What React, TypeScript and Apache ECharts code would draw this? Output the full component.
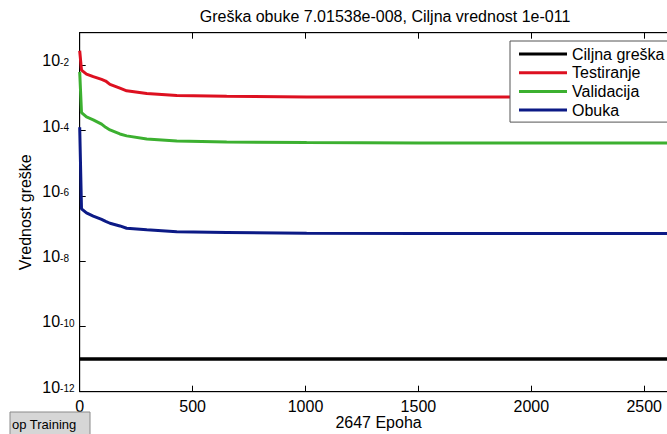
import React, { useEffect, useRef } from "react";
import * as echarts from "echarts";

const titleText = "Greška obuke 7.01538e-008, Ciljna vrednost 1e-011";
const xName = "2647 Epoha";
const yName = "Vrednost greške";
const seriesNames = ["Ciljna greška", "Testiranje", "Validacija", "Obuka"];
const seriesColors = ["#000000", "#dd1020", "#3cb030", "#0c1a86"];

const epochs = [0, 8, 30, 60, 97, 115, 134, 178, 208, 297, 430, 651, 1005, 1500, 2000, 2647];
const target = [1e-11, 1e-11, 1e-11, 1e-11, 1e-11, 1e-11, 1e-11, 1e-11, 1e-11, 1e-11, 1e-11, 1e-11, 1e-11, 1e-11, 1e-11, 1e-11];
const testing = [2.8e-2, 7.1e-3, 5.4e-3, 4.5e-3, 3.7e-3, 3.3e-3, 2.6e-3, 2.0e-3, 1.66e-3, 1.38e-3, 1.2e-3, 1.12e-3, 1.07e-3, 1.07e-3, 1.07e-3, 1.07e-3];
const validation = [6.3e-3, 3.55e-4, 2.63e-4, 2.14e-4, 1.58e-4, 1.26e-4, 1.05e-4, 7.9e-5, 6.9e-5, 5.5e-5, 4.8e-5, 4.5e-5, 4.3e-5, 4.2e-5, 4.2e-5, 4.2e-5];
const training = [1.26e-4, 4.0e-7, 3.0e-7, 2.4e-7, 1.9e-7, 1.66e-7, 1.45e-7, 1.2e-7, 1.02e-7, 9.1e-8, 7.9e-8, 7.6e-8, 7.1e-8, 7.05e-8, 7.03e-8, 7.01538e-8];

const xTicks = [0, 500, 1000, 1500, 2000, 2500];

const FONT = "'Liberation Sans', Arial, sans-serif";

export default function App() {
  const ref = useRef<HTMLDivElement>(null);
  useEffect(() => {
    if (!ref.current) return;
    const chart = echarts.init(ref.current, null, { renderer: "svg" });
    const allSeries = [target, testing, validation, training];
    const option: any = {
      animation: false,
      backgroundColor: "#ffffff",
      textStyle: { fontFamily: FONT },
      title: {
        text: titleText,
        left: 380,
        textAlign: "center",
        top: 3,
        textStyle: { fontFamily: FONT, fontSize: 16, fontWeight: "normal", color: "#000" },
      },
      legend: {
        orient: "vertical",
        left: 510,
        top: 41,
        padding: [5, 10, 4, 9],
        itemGap: 2.7,
        itemWidth: 48,
        itemHeight: 3,
        icon: "rect",
        backgroundColor: "#ffffff",
        borderColor: "#555555",
        borderWidth: 1,
        borderRadius: 0,
        textStyle: { fontFamily: FONT, fontSize: 16, color: "#000" },
        data: seriesNames,
      },
      grid: {
        left: 79.7,
        top: 32.7,
        right: -10.4,
        bottom: 42.3,
        containLabel: false,
        outerBoundsMode: "none",
        show: true,
        borderColor: "#000",
        borderWidth: 1,
        backgroundColor: "#ffffff",
      },
      xAxis: [
        {
          type: "value",
          min: 0,
          max: 2647,
          interval: 500,
          name: xName,
          nameLocation: "middle",
          nameGap: 23,
          nameMoveOverlap: false,
          nameTextStyle: { fontFamily: FONT, fontSize: 16, color: "#000" },
          axisLine: { show: true, lineStyle: { color: "#000", width: 1 } },
          axisTick: { show: true, inside: true, length: 6, lineStyle: { color: "#000" } },
          splitLine: { show: false },
          axisLabel: {
            fontFamily: FONT,
            fontSize: 16,
            color: "#000",
            margin: 7,
            showMaxLabel: false,
            formatter: (v: number) => (xTicks.indexOf(Math.round(v)) >= 0 ? String(Math.round(v)) : ""),
          },
        },
        {
          type: "value",
          position: "top",
          min: 0,
          max: 2647,
          interval: 500,
          axisLine: { show: true, lineStyle: { color: "#000", width: 1 } },
          axisTick: { show: true, inside: true, length: 6, lineStyle: { color: "#000" } },
          axisLabel: { show: false },
          splitLine: { show: false },
        },
      ],
      yAxis: {
        type: "log",
        logBase: 10,
        min: 1e-12,
        max: 1e-1,
        interval: 2,
        name: yName,
        nameLocation: "middle",
        nameGap: 46,
        nameMoveOverlap: false,
        nameTextStyle: { fontFamily: FONT, fontSize: 16, color: "#000" },
        axisLine: { show: true, lineStyle: { color: "#000", width: 1 } },
        axisTick: { show: true, inside: true, length: 6, lineStyle: { color: "#000" } },
        splitLine: { show: false },
        minorTick: { show: false },
        axisLabel: {
          align: "left",
          margin: 37.4,
          showMaxLabel: false,
          formatter: (v: number) => {
            const e = Math.round(Math.log10(v));
            if (e % 2 !== 0) return "";
            return "{b|10}{s|" + e + "}";
          },
          rich: {
            b: { fontFamily: FONT, fontSize: 16, color: "#000", lineHeight: 16, padding: [0, 0, 4.5, 0], verticalAlign: "bottom" },
            s: { fontFamily: FONT, fontSize: 10, color: "#000", lineHeight: 10, padding: [0, 0, 16, 0], verticalAlign: "top" },
          },
        },
      },
      series: seriesNames.map((name, i) => ({
        name,
        type: "line",
        xAxisIndex: 0,
        symbol: "none",
        showSymbol: false,
        smooth: false,
        color: seriesColors[i],
        lineStyle: { color: seriesColors[i], width: i === 0 ? 3.5 : 3 },
        data: epochs.map((ep, k) => [ep, allSeries[i][k]]),
        z: i === 0 ? 2 : 3,
      })),
      graphic: [
        {
          type: "rect",
          shape: { x: 10, y: 412, width: 80, height: 30 },
          style: { fill: "#d6d6d6", stroke: "#8a8a8a", lineWidth: 1 },
          z: 100,
        },
        {
          type: "text",
          x: 12,
          y: 424,
          style: {
            text: "op Training",
            fontFamily: FONT,
            fontSize: 13,
            fill: "#000",
            verticalAlign: "middle",
            align: "left",
          },
          z: 101,
        },
      ],
    };
    chart.setOption(option);
    return () => chart.dispose();
  }, []);
  return (
    <div
      ref={ref}
      style={{ position: "fixed", left: 0, top: 0, width: 667, height: 434, background: "#fff" }}
    />
  );
}
